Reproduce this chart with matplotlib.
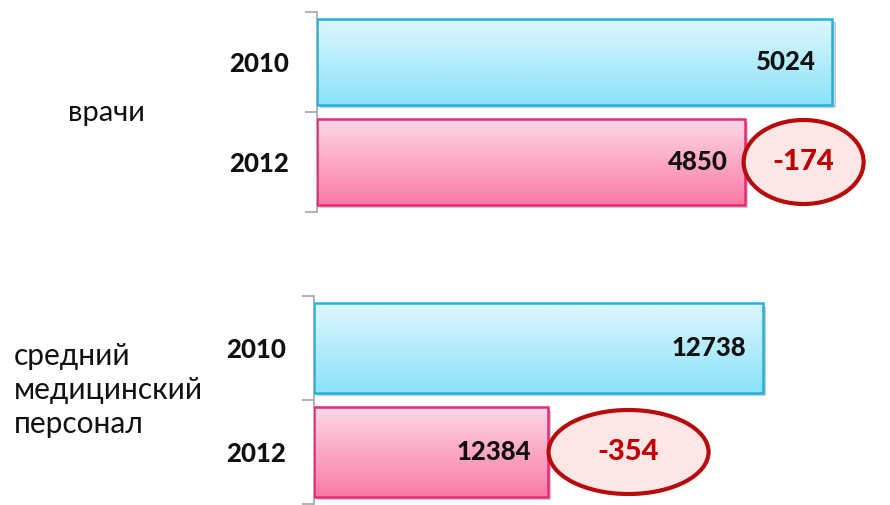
import numpy as np
import matplotlib
matplotlib.use('Agg')
import matplotlib.pyplot as plt
import matplotlib.transforms as mtransforms
from matplotlib.patches import Ellipse
from matplotlib import patheffects
from matplotlib.colors import LinearSegmentedColormap

plt.rcParams['font.family'] = ['Lato', 'DejaVu Sans']

years = ['2010', '2012']
doctors = [5024, 4850]
nurses = [12738, 12384]
doctors_diff = '-174'
nurses_diff = '-354'
group_labels = ['врачи', 'средний\nмедицинский\nперсонал']

W, H = 890, 505
fig = plt.figure(figsize=(W / 100, H / 100), dpi=100)
fig.patch.set_facecolor('white')

blue = LinearSegmentedColormap.from_list('b', ['#dff7fe', '#8ae2f9'])
pink = LinearSegmentedColormap.from_list('p', ['#fed8e6', '#f97aa6'])
edge_cols = ['#22b2dc', '#e8287a']
cmaps = [blue, pink]


def px_axes(left, top, right, bottom):
    return fig.add_axes([left / W, 1 - bottom / H, (right - left) / W, (bottom - top) / H])


def draw_panel(ax, values, xmin, xmax, diff, ell_w, ell_h, shift):
    y = np.arange(len(values))
    # shadow / base
    base = ax.barh(y, [v - xmin for v in values], left=xmin, height=0.86,
                   color='white', edgecolor='none', zorder=1)
    for b in base:
        b.set_path_effects([patheffects.SimplePatchShadow(offset=(2.5, -2.5), shadow_rgbFace='k', alpha=0.2),
                            patheffects.Normal()])
    grad = np.linspace(0, 1, 256).reshape(-1, 1)
    for b, cm in zip(base, cmaps):
        x0, y0 = b.get_x(), b.get_y()
        im = ax.imshow(grad, cmap=cm, aspect='auto', origin='upper', zorder=2,
                       extent=(x0, x0 + b.get_width(), y0 + b.get_height(), y0))
        im.set_clip_path(b)
    ax.barh(y, [v - xmin for v in values], left=xmin, height=0.86,
            color='none', edgecolor=edge_cols, linewidth=1.8, zorder=3)
    for yi, v in zip(y, values):
        ax.annotate(str(v), (v, yi), xytext=(-12, 0), textcoords='offset points',
                    ha='right', va='center', fontsize=18.5, fontweight='black', color='#111111', zorder=4)
    # difference ellipse to the right of the 2012 bar
    v = values[1]
    tr = fig.dpi_scale_trans + mtransforms.ScaledTranslation(v, 1, ax.transData)
    off = (ell_w / 2 + shift) / 100
    ell = Ellipse((off, 0), ell_w / 100, ell_h / 100, transform=tr,
                  facecolor='#fde6e6', edgecolor='#b80c0c', linewidth=3, zorder=5, clip_on=False)
    ax.add_patch(ell)
    ax.text(off, 0, diff, transform=tr, ha='center', va='center', fontsize=21,
            fontweight='black', color='#c00000', zorder=6)

    ax.set_xlim(xmin, xmax)
    ax.set_ylim(1.5, -0.5)
    ax.set_yticks(y, years)
    ax.set_yticks([-0.5, 0.5, 1.5], minor=True)
    ax.tick_params(axis='y', which='major', length=0, pad=20, labelsize=18.5)
    ax.tick_params(axis='y', which='minor', length=9, width=1.2, color='#a6a6a6')
    for lab in ax.get_yticklabels():
        lab.set_fontweight('black')
        lab.set_color('#111111')
    ax.set_xticks([])
    for s in ['top', 'right', 'bottom']:
        ax.spines[s].set_visible(False)
    ax.spines['left'].set_color('#a6a6a6')
    ax.spines['left'].set_linewidth(1.2)
    ax.set_facecolor('none')


ax1 = px_axes(317, 12, 890, 212)
draw_panel(ax1, doctors, 4000, 5139, doctors_diff, 120, 84, -1)

ax2 = px_axes(314, 296, 890, 504)
draw_panel(ax2, nurses, 12000, 12947, nurses_diff, 160, 84, 1)

fig.text(106 / W, 1 - 113 / H, group_labels[0], ha='center', va='center',
         fontsize=21, color='#111111')
fig.text(14 / W, 1 - 390 / H, group_labels[1], ha='left', va='center',
         fontsize=21.5, color='#111111', linespacing=1.25)

fig.savefig('out.png', dpi=100, facecolor='white')
